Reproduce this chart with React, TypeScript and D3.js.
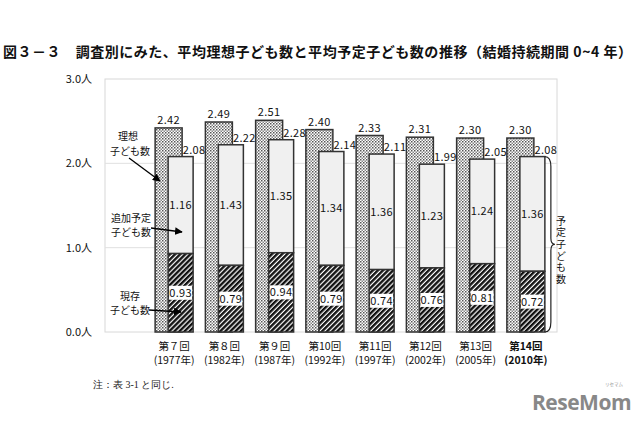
import React from "react";
import * as d3 from "d3";

const categories = ["第７回", "第８回", "第９回", "第10回", "第11回", "第12回", "第13回", "第14回"];
const years = ["(1977年)", "(1982年)", "(1987年)", "(1992年)", "(1997年)", "(2002年)", "(2005年)", "(2010年)"];
const ideal = [2.42, 2.49, 2.51, 2.4, 2.33, 2.31, 2.3, 2.3];
const planned = [2.08, 2.22, 2.28, 2.14, 2.11, 1.99, 2.05, 2.08];
const existing = [0.93, 0.79, 0.94, 0.79, 0.74, 0.76, 0.81, 0.72];
const additional = [1.16, 1.43, 1.35, 1.34, 1.36, 1.23, 1.24, 1.36];
const yTicks = [0, 1, 2, 3];

const W = 640;
const H = 424;
const PL = 105, PR = 557, PT = 79, PB = 332;
const FONT = "'Noto Sans CJK JP', 'Noto Sans', sans-serif";

export default function App() {
  const y = d3.scaleLinear().domain([0, 3]).range([PB, PT]);
  const x = d3.scaleBand<string>().domain(categories).range([149, 551]).paddingInner(0).paddingOuter(0);
  const bw = x.bandwidth();
  const stroke = "#333";
  const last = categories.length - 1;
  const lastC = (x(categories[last]) as number) + bw / 2;
  const braceX = lastC + 19;
  const topB = y(planned[last]);
  const midB = (topB + PB) / 2;

  return (
    <svg width={W} height={H} style={{ position: "absolute", left: 0, top: 0, background: "#fff" }} fontFamily={FONT}>
      <defs>
        <pattern id="dots" width="3" height="3" patternUnits="userSpaceOnUse">
          <rect width="3" height="3" fill="#fff" />
          <rect x="0" y="0" width="1.5" height="1.5" fill="#555" />
          <rect x="1.5" y="1.5" width="1.5" height="1.5" fill="#888" />
        </pattern>
        <pattern id="hatch" width="3.6" height="3.6" patternUnits="userSpaceOnUse" patternTransform="rotate(45)">
          <rect width="3.6" height="3.6" fill="#fff" />
          <rect x="0" y="0" width="2.4" height="3.6" fill="#111" />
        </pattern>
        <marker id="arr" viewBox="0 0 10 10" refX="9" refY="5" markerWidth="6" markerHeight="6" orient="auto">
          <path d="M0,0 L10,5 L0,10 z" fill="#000" />
        </marker>
      </defs>

      <text x={3} y={57} fontSize={14} fontWeight={600} fill="#111" textLength={629} lengthAdjust="spacing">
        図３－３　調査別にみた、平均理想子ども数と平均予定子ども数の推移（結婚持続期間 0~4 年）
      </text>

      <rect x={PL} y={PT} width={PR - PL} height={PB - PT} fill="none" stroke="#d8d8d8" strokeWidth={1} />
      {yTicks.map((t) => (
        <g key={t}>
          {t > 0 && t < 3 && <line x1={PL} x2={PR} y1={y(t)} y2={y(t)} stroke="#e0e0e0" strokeWidth={1} />}
          <text x={92} y={y(t) + 4} fontSize={11} textAnchor="end" fill="#111">{`${t.toFixed(1)}人`}</text>
        </g>
      ))}

      {categories.map((c, i) => {
        const cx = (x(c) as number) + bw / 2;
        const ix0 = cx - 19, ix1 = cx + 8;
        const px0 = cx - 6, px1 = cx + 19;
        const exMid = (y(existing[i]) + PB) / 2;
        const addMid = (y(existing[i]) + y(planned[i])) / 2;
        const bold = i === last;
        return (
          <g key={c}>
            <rect x={ix0} y={y(ideal[i])} width={ix1 - ix0} height={PB - y(ideal[i])} fill="url(#dots)" stroke={stroke} strokeWidth={1.5} />
            <rect x={px0} y={y(planned[i])} width={px1 - px0} height={y(existing[i]) - y(planned[i])} fill="#f0f0f0" stroke={stroke} strokeWidth={1.5} />
            <rect x={px0} y={y(existing[i])} width={px1 - px0} height={PB - y(existing[i])} fill="url(#hatch)" stroke={stroke} strokeWidth={1.5} />
            <rect x={px0 + 1} y={exMid - 7} width={px1 - px0 - 2} height={14} fill="#fff" />
            <text x={(px0 + px1) / 2} y={exMid + 4} fontSize={11} textAnchor="middle" fill="#111" letterSpacing={0.4}>{existing[i].toFixed(2)}</text>
            <text x={(px0 + px1) / 2} y={addMid + 4} fontSize={11} textAnchor="middle" fill="#111" letterSpacing={0.4}>{additional[i].toFixed(2)}</text>
            <text x={(ix0 + ix1) / 2} y={y(ideal[i]) - 4} fontSize={11} textAnchor="middle" fill="#111" letterSpacing={0.4}>{ideal[i].toFixed(2)}</text>
            <text x={px1 + 1} y={y(planned[i]) - 3} fontSize={11} textAnchor="middle" fill="#111" letterSpacing={0.4}>{planned[i].toFixed(2)}</text>
            <text x={cx} textAnchor="middle" fontSize={10.5} fontWeight={bold ? "bold" : "normal"} fill="#111">
              <tspan x={cx} y={350}>{c}</tspan>
              <tspan x={cx} y={364}>{years[i]}</tspan>
            </text>
          </g>
        );
      })}

      {/* left annotations */}
      <g fontSize={10} fill="#111" textAnchor="middle">
        <text>
          <tspan x={128} y={140}>理想</tspan>
          <tspan x={130} y={155}>子ども数</tspan>
        </text>
        <text>
          <tspan x={131} y={222}>追加予定</tspan>
          <tspan x={131} y={236}>子ども数</tspan>
        </text>
        <text>
          <tspan x={130} y={300}>現存</tspan>
          <tspan x={130} y={314}>子ども数</tspan>
        </text>
      </g>
      <line x1={129} y1={158} x2={160} y2={181} stroke="#000" strokeWidth={1.3} markerEnd="url(#arr)" />
      <line x1={151} y1={228} x2={182} y2={232} stroke="#000" strokeWidth={1.3} markerEnd="url(#arr)" />
      <line x1={149} y1={310} x2={181} y2={312} stroke="#000" strokeWidth={1.3} markerEnd="url(#arr)" />

      {/* right brace */}
      <path
        d={`M${braceX},${topB} Q${braceX + 6},${topB} ${braceX + 6},${topB + 10} L${braceX + 6},${midB - 6} Q${braceX + 6},${midB} ${braceX + 10},${midB} Q${braceX + 6},${midB} ${braceX + 6},${midB + 6} L${braceX + 6},${PB - 10} Q${braceX + 6},${PB} ${braceX},${PB}`}
        fill="none"
        stroke="#222"
        strokeWidth={1.2}
      />
      <text x={561} y={216} fontSize={10} fill="#111" style={{ writingMode: "vertical-rl" }} letterSpacing={1.6}>予定子ども数</text>

      <text x={93} y={388} fontSize={10} fill="#222" fontFamily="'Liberation Serif', 'DejaVu Serif', serif">注：表 3-1 と同じ.</text>

      <text x={532} y={410} fontSize={21} fontWeight="bold" fill="#888" fontFamily="'Open Sans', 'DejaVu Sans', sans-serif" letterSpacing={-0.5}>ReseMom</text>
      <text x={614} y={386} fontSize={4.5} fill="#999" textAnchor="middle">リセマム</text>
    </svg>
  );
}
